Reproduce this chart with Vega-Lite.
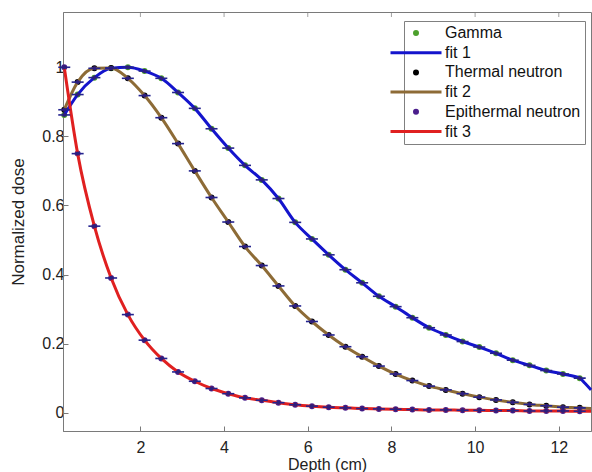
{
  "$schema": "https://vega.github.io/schema/vega-lite/v6.json",
  "width": 528,
  "height": 419,
  "autosize": "none",
  "padding": {"left": 63, "top": 12, "right": 1, "bottom": 41},
  "background": "white",
  "config": {
    "font": "Liberation Sans",
    "view": {"stroke": "#7a7a7a", "strokeWidth": 1}
  },
  "datasets": {
    "pts": [
      {"d": 0.18, "Gamma": 0.862, "Thermal neutron": 0.877, "Epithermal neutron": 1.0},
      {"d": 0.5, "Gamma": 0.921, "Thermal neutron": 0.957, "Epithermal neutron": 0.75},
      {"d": 0.9, "Gamma": 0.97, "Thermal neutron": 0.997, "Epithermal neutron": 0.54},
      {"d": 1.3, "Gamma": 0.997, "Thermal neutron": 0.998, "Epithermal neutron": 0.39},
      {"d": 1.7, "Gamma": 1.0, "Thermal neutron": 0.968, "Epithermal neutron": 0.284},
      {"d": 2.1, "Gamma": 0.989, "Thermal neutron": 0.918, "Epithermal neutron": 0.21},
      {"d": 2.5, "Gamma": 0.968, "Thermal neutron": 0.854, "Epithermal neutron": 0.157},
      {"d": 2.9, "Gamma": 0.927, "Thermal neutron": 0.779, "Epithermal neutron": 0.118},
      {"d": 3.3, "Gamma": 0.881, "Thermal neutron": 0.7, "Epithermal neutron": 0.091},
      {"d": 3.7, "Gamma": 0.822, "Thermal neutron": 0.623, "Epithermal neutron": 0.07},
      {"d": 4.1, "Gamma": 0.766, "Thermal neutron": 0.552, "Epithermal neutron": 0.055},
      {"d": 4.5, "Gamma": 0.716, "Thermal neutron": 0.481, "Epithermal neutron": 0.043},
      {"d": 4.9, "Gamma": 0.674, "Thermal neutron": 0.426, "Epithermal neutron": 0.036},
      {"d": 5.3, "Gamma": 0.62, "Thermal neutron": 0.367, "Epithermal neutron": 0.029},
      {"d": 5.7, "Gamma": 0.551, "Thermal neutron": 0.309, "Epithermal neutron": 0.023},
      {"d": 6.1, "Gamma": 0.503, "Thermal neutron": 0.264, "Epithermal neutron": 0.019},
      {"d": 6.5, "Gamma": 0.457, "Thermal neutron": 0.225, "Epithermal neutron": 0.016},
      {"d": 6.9, "Gamma": 0.414, "Thermal neutron": 0.191, "Epithermal neutron": 0.014},
      {"d": 7.3, "Gamma": 0.376, "Thermal neutron": 0.162, "Epithermal neutron": 0.012},
      {"d": 7.7, "Gamma": 0.337, "Thermal neutron": 0.135, "Epithermal neutron": 0.011},
      {"d": 8.1, "Gamma": 0.307, "Thermal neutron": 0.112, "Epithermal neutron": 0.01},
      {"d": 8.5, "Gamma": 0.275, "Thermal neutron": 0.093, "Epithermal neutron": 0.009},
      {"d": 8.9, "Gamma": 0.246, "Thermal neutron": 0.077, "Epithermal neutron": 0.008},
      {"d": 9.3, "Gamma": 0.225, "Thermal neutron": 0.066, "Epithermal neutron": 0.008},
      {"d": 9.7, "Gamma": 0.206, "Thermal neutron": 0.055, "Epithermal neutron": 0.007},
      {"d": 10.1, "Gamma": 0.19, "Thermal neutron": 0.045, "Epithermal neutron": 0.007},
      {"d": 10.5, "Gamma": 0.172, "Thermal neutron": 0.037, "Epithermal neutron": 0.006},
      {"d": 10.9, "Gamma": 0.152, "Thermal neutron": 0.03, "Epithermal neutron": 0.006},
      {"d": 11.3, "Gamma": 0.137, "Thermal neutron": 0.024, "Epithermal neutron": 0.005},
      {"d": 11.7, "Gamma": 0.122, "Thermal neutron": 0.02, "Epithermal neutron": 0.005},
      {"d": 12.1, "Gamma": 0.112, "Thermal neutron": 0.016, "Epithermal neutron": 0.005},
      {"d": 12.5, "Gamma": 0.1, "Thermal neutron": 0.014, "Epithermal neutron": 0.004}
    ],
    "fits": [
      {"d": 0.18, "fit 1": 0.862, "fit 2": 0.877, "fit 3": 1.0},
      {"d": 0.5, "fit 1": 0.921, "fit 2": 0.957, "fit 3": 0.75},
      {"d": 0.9, "fit 1": 0.97, "fit 2": 0.997, "fit 3": 0.54},
      {"d": 1.3, "fit 1": 0.997, "fit 2": 0.998, "fit 3": 0.39},
      {"d": 1.7, "fit 1": 1.0, "fit 2": 0.968, "fit 3": 0.284},
      {"d": 2.1, "fit 1": 0.989, "fit 2": 0.918, "fit 3": 0.21},
      {"d": 2.5, "fit 1": 0.968, "fit 2": 0.854, "fit 3": 0.157},
      {"d": 2.9, "fit 1": 0.927, "fit 2": 0.779, "fit 3": 0.118},
      {"d": 3.3, "fit 1": 0.881, "fit 2": 0.7, "fit 3": 0.091},
      {"d": 3.7, "fit 1": 0.822, "fit 2": 0.623, "fit 3": 0.07},
      {"d": 4.1, "fit 1": 0.766, "fit 2": 0.552, "fit 3": 0.055},
      {"d": 4.5, "fit 1": 0.716, "fit 2": 0.481, "fit 3": 0.043},
      {"d": 4.9, "fit 1": 0.674, "fit 2": 0.426, "fit 3": 0.036},
      {"d": 5.3, "fit 1": 0.62, "fit 2": 0.367, "fit 3": 0.029},
      {"d": 5.7, "fit 1": 0.551, "fit 2": 0.309, "fit 3": 0.023},
      {"d": 6.1, "fit 1": 0.503, "fit 2": 0.264, "fit 3": 0.019},
      {"d": 6.5, "fit 1": 0.457, "fit 2": 0.225, "fit 3": 0.016},
      {"d": 6.9, "fit 1": 0.414, "fit 2": 0.191, "fit 3": 0.014},
      {"d": 7.3, "fit 1": 0.376, "fit 2": 0.162, "fit 3": 0.012},
      {"d": 7.7, "fit 1": 0.337, "fit 2": 0.135, "fit 3": 0.011},
      {"d": 8.1, "fit 1": 0.307, "fit 2": 0.112, "fit 3": 0.01},
      {"d": 8.5, "fit 1": 0.275, "fit 2": 0.093, "fit 3": 0.009},
      {"d": 8.9, "fit 1": 0.246, "fit 2": 0.077, "fit 3": 0.008},
      {"d": 9.3, "fit 1": 0.225, "fit 2": 0.066, "fit 3": 0.008},
      {"d": 9.7, "fit 1": 0.206, "fit 2": 0.055, "fit 3": 0.007},
      {"d": 10.1, "fit 1": 0.19, "fit 2": 0.045, "fit 3": 0.007},
      {"d": 10.5, "fit 1": 0.172, "fit 2": 0.037, "fit 3": 0.006},
      {"d": 10.9, "fit 1": 0.152, "fit 2": 0.03, "fit 3": 0.006},
      {"d": 11.3, "fit 1": 0.137, "fit 2": 0.024, "fit 3": 0.005},
      {"d": 11.7, "fit 1": 0.122, "fit 2": 0.02, "fit 3": 0.005},
      {"d": 12.1, "fit 1": 0.112, "fit 2": 0.016, "fit 3": 0.005},
      {"d": 12.5, "fit 1": 0.1, "fit 2": 0.014, "fit 3": 0.004},
      {"d": 12.62, "fit 1": 0.086, "fit 2": 0.013, "fit 3": 0.004},
      {"d": 12.77, "fit 1": 0.066, "fit 2": 0.012, "fit 3": 0.004}
    ],
    "topticks": [{"t": 2}, {"t": 4}, {"t": 6}, {"t": 8}, {"t": 10}, {"t": 12}]
  },
  "layer": [
    {
      "data": {"name": "pts"},
      "transform": [{"fold": ["Gamma", "Thermal neutron", "Epithermal neutron"], "as": ["key", "value"]}],
      "mark": {"type": "point", "filled": true, "size": 36, "opacity": 1},
      "encoding": {
        "x": {
          "field": "d", "type": "quantitative",
          "scale": {"domain": [0.15, 12.77], "nice": false, "zero": false},
          "axis": {
            "values": [2, 4, 6, 8, 10, 12], "title": "Depth (cm)", "grid": false,
            "tickSize": -5, "labelPadding": 13, "domainColor": "#7a7a7a", "tickColor": "#7a7a7a",
            "labelColor": "#222222", "labelFontSize": 16, "titleFontSize": 16,
            "titleFontWeight": "normal", "titleColor": "#222222", "titlePadding": 1
          }
        },
        "y": {
          "field": "value", "type": "quantitative",
          "scale": {"domain": [-0.053, 1.16], "nice": false, "zero": false},
          "axis": {
            "values": [0, 0.2, 0.4, 0.6, 0.8, 1], "format": "~g", "title": "Normalized dose", "grid": false,
            "tickSize": -5, "labelPadding": 4, "domainColor": "#7a7a7a", "tickColor": "#7a7a7a",
            "labelColor": "#222222", "labelFontSize": 16, "titleFontSize": 17,
            "titleFontWeight": "normal", "titleColor": "#222222", "titlePadding": 14
          }
        },
        "color": {
          "field": "key", "type": "nominal",
          "scale": {
            "domain": ["Gamma", "fit 1", "Thermal neutron", "fit 2", "Epithermal neutron", "fit 3"],
            "range": ["#4ca02c", "#1414cc", "#000000", "#8d6b36", "#4b1e8c", "#e02020"]
          },
          "legend": {
            "title": null, "orient": "none", "legendX": 341, "legendY": 9,
            "fillColor": "white", "strokeColor": "#808080", "padding": 4,
            "labelFontSize": 16, "labelColor": "#111111", "labelOffset": 21,
            "symbolSize": 9, "symbolStrokeWidth": 3, "rowPadding": 3.7, "symbolOpacity": 1,
            "labelExpr": "slice(datum.label,0,3) == 'fit' ? '\u00a0' + datum.label : datum.label"
          }
        },
        "shape": {
          "field": "key", "type": "nominal",
          "scale": {
            "domain": ["Gamma", "fit 1", "Thermal neutron", "fit 2", "Epithermal neutron", "fit 3"],
            "range": ["circle", "M-17,0H17", "circle", "M-17,0H17", "circle", "M-17,0H17"]
          }
        }
      }
    },
    {
      "data": {"name": "fits"},
      "transform": [{"fold": ["fit 1", "fit 2", "fit 3"], "as": ["key", "value"]}],
      "mark": {"type": "line", "strokeWidth": 3, "interpolate": "monotone"},
      "encoding": {
        "x": {"field": "d", "type": "quantitative"},
        "y": {"field": "value", "type": "quantitative"},
        "color": {"field": "key", "type": "nominal"}
      }
    },
    {
      "data": {"name": "pts"},
      "transform": [{"fold": ["Gamma", "Thermal neutron", "Epithermal neutron"], "as": ["key", "value"]}],
      "mark": {"type": "tick", "orient": "horizontal", "size": 12, "thickness": 1.6, "color": "#24238f", "opacity": 1},
      "encoding": {
        "x": {"field": "d", "type": "quantitative"},
        "y": {"field": "value", "type": "quantitative"}
      }
    },
    {
      "data": {"name": "pts"},
      "transform": [{"fold": ["Gamma", "Thermal neutron", "Epithermal neutron"], "as": ["key", "value"]}],
      "mark": {"type": "circle", "size": 18, "color": "#2e1f7c", "opacity": 1},
      "encoding": {
        "x": {"field": "d", "type": "quantitative"},
        "y": {"field": "value", "type": "quantitative"}
      }
    },
    {
      "data": {"name": "topticks"},
      "mark": {"type": "tick", "orient": "vertical", "size": 10, "thickness": 1, "color": "#7a7a7a", "clip": true},
      "encoding": {
        "x": {"field": "t", "type": "quantitative"},
        "y": {"datum": 1.16, "type": "quantitative"}
      }
    }
  ]
}
